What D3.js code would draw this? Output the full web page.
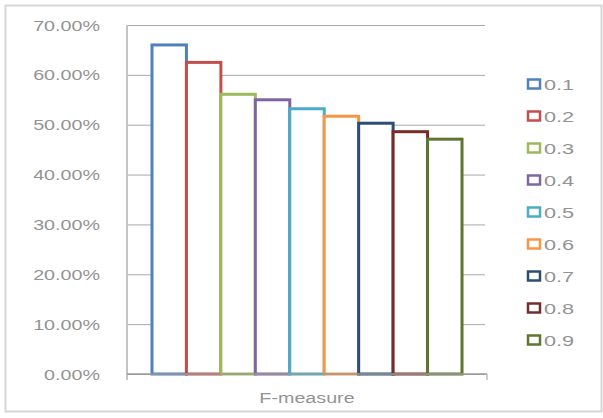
<!DOCTYPE html>
<html><head><meta charset="utf-8">
<script src="https://cdn.jsdelivr.net/npm/d3@7"></script>
<style>html,body{margin:0;padding:0;background:#fff;}svg{display:block;}</style>
</head><body>
<script>
const categories = ["F-measure"];
const seriesNames = ["0.1","0.2","0.3","0.4","0.5","0.6","0.7","0.8","0.9"];
const seriesValues = [0.660, 0.625, 0.561, 0.550, 0.532, 0.517, 0.503, 0.486, 0.471];
const yTickValues = [0, 0.1, 0.2, 0.3, 0.4, 0.5, 0.6, 0.7];
const seriesColors = ["#4F81BD","#C0504D","#9BBB59","#8064A2","#4BACC6","#F79646","#2C4D75","#772C2A","#5F7530"];

const W = 603, H = 418;
const svg = d3.select("body").append("svg").attr("width", W).attr("height", H);
const SX = 1.36; // horizontal stretch of the text in the picture
const textColor = "#939393";
const font = "'Liberation Sans', Arial, sans-serif";

// outer frame
svg.append("rect").attr("x", 5.5).attr("y", 5.5).attr("width", 596).attr("height", 406)
  .attr("fill", "#fff").attr("stroke", "#d6d6d6").attr("stroke-width", 2);

const plot = {left: 127, right: 487, top: 25, bottom: 374};

const y = d3.scaleLinear().domain([0, 0.7]).range([plot.bottom, plot.top]);
const x0 = d3.scaleBand().domain(categories).range([plot.left, plot.right])
  .paddingInner(0).paddingOuter(0.0806);
const x1 = d3.scaleBand().domain(seriesNames).range([0, x0.bandwidth()]).padding(0);
const color = d3.scaleOrdinal().domain(seriesNames).range(seriesColors);

// gridlines + ticks
const grid = svg.append("g").attr("transform", `translate(${plot.left},0)`)
  .call(d3.axisLeft(y).tickValues(yTickValues).tickSize(9).tickFormat(""))
  .call(g => g.select(".domain").remove());
grid.selectAll(".tick line").attr("stroke", "#a8a8a8").attr("x2", plot.right - plot.left - 2);

// y axis line
svg.append("line").attr("x1", plot.left).attr("x2", plot.left)
  .attr("y1", y(0.7)).attr("y2", plot.bottom + 6)
  .attr("stroke", "#c4c4c4").attr("stroke-width", 2);

// y labels
const fmt = d3.format(".2%");
svg.append("g").selectAll("text").data(yTickValues).join("text")
  .attr("transform", d => `translate(100,${y(d) + 5.5}) scale(${SX},1)`)
  .attr("text-anchor", "end")
  .attr("font-family", font).attr("font-size", 14.5).attr("fill", textColor)
  .text(d => fmt(d));

// bars
const bars = svg.append("g").selectAll("g").data(categories).join("g")
  .attr("transform", d => `translate(${x0(d)},0)`);
bars.selectAll("rect").data(() => seriesNames.map((s, i) => ({s, v: seriesValues[i]}))).join("rect")
  .attr("x", d => x1(d.s))
  .attr("y", d => y(d.v))
  .attr("width", x1.bandwidth())
  .attr("height", d => y(0) - y(d.v))
  .attr("fill", "#fff")
  .attr("stroke", d => color(d.s))
  .attr("stroke-width", 3);

// x axis line
svg.append("line").attr("x1", plot.left).attr("x2", plot.right)
  .attr("y1", plot.bottom).attr("y2", plot.bottom)
  .attr("stroke", "#9a9a9a").attr("stroke-width", 1.5);
svg.append("line").attr("x1", plot.right).attr("x2", plot.right)
  .attr("y1", plot.bottom).attr("y2", plot.bottom + 6)
  .attr("stroke", "#bbb").attr("stroke-width", 1.5);

// x label
svg.append("g").selectAll("text").data(categories).join("text")
  .attr("transform", d => `translate(${x0(d) + x0.bandwidth() / 2},403) scale(${SX},1)`)
  .attr("text-anchor", "middle")
  .attr("font-family", font).attr("font-size", 14.5).attr("fill", textColor)
  .text(d => d);

// legend
const ly = d3.scalePoint().domain(seriesNames).range([84, 340]);
const leg = svg.append("g").selectAll("g").data(seriesNames).join("g")
  .attr("transform", d => `translate(527,${ly(d)})`);
leg.append("rect").attr("x", 1).attr("y", -4.5).attr("width", 12).attr("height", 9)
  .attr("fill", "#fff").attr("stroke", d => color(d)).attr("stroke-width", 2.5);
leg.append("text").attr("transform", `translate(17,5.5) scale(1.5,1)`)
  .attr("font-family", font).attr("font-size", 14.5).attr("fill", textColor)
  .text(d => d);
</script>
</body></html>
